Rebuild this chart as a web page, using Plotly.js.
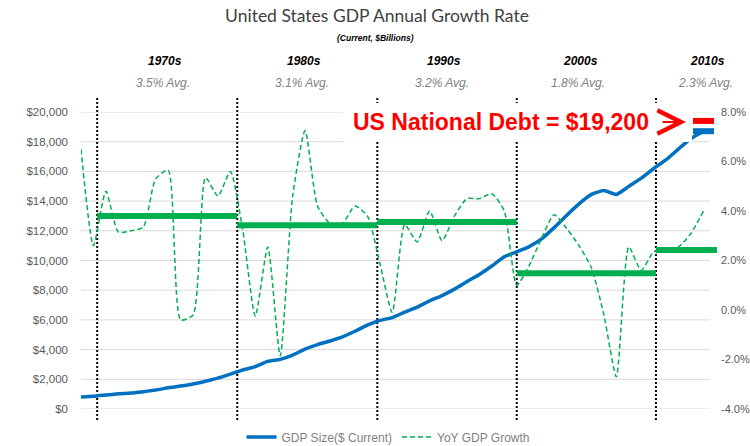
<!DOCTYPE html>
<html>
<head>
<meta charset="utf-8">
<script src="https://cdn.plot.ly/plotly-3.0.1.min.js"></script>
<style>html,body{margin:0;padding:0;background:#fff;}#chart{width:750px;height:446px;}</style>
</head>
<body>
<div id="chart"></div>
<script>
// ---- data ----
const years = [1966,1967,1968,1969,1970,1971,1972,1973,1974,1975,1976,1977,1978,1979,
  1980,1981,1982,1983,1984,1985,1986,1987,1988,1989,1990,1991,1992,1993,1994,1995,
  1996,1997,1998,1999,2000,2001,2002,2003,2004,2005,2006,2007,2008,2009,2010,2011,
  2012,2013,2014,2015,2016];
const gdpSize = [815,862,943,1020,1073,1165,1279,1425,1545,1685,1873,2082,2352,2627,
  2857,3207,3344,3634,4038,4339,4580,4855,5236,5642,5963,6158,6520,6859,7287,7640,
  8073,8578,9063,9631,10251,10582,10936,11458,12214,13037,13815,14452,14713,14449,14992,15543,
  16197,16785,17522,18219,18707];
const yoyGrowth = [6.5,2.6,4.8,3.15,3.2,3.35,5.3,5.65,-0.4,-0.2,5.35,4.6,5.6,3.2,
  -0.25,2.55,-1.85,4.6,7.25,4.2,3.5,3.5,4.2,3.8,1.9,-0.1,3.45,2.75,4.0,2.8,
  3.8,4.5,4.5,4.7,4.0,1.0,1.8,2.9,3.85,3.3,2.6,1.7,-0.2,-2.7,2.55,1.6,
  2.35,2.4,2.55,3.1,4.0];
const decadeNames = ["1970s","1980s","1990s","2000s","2010s"];
const decadeAvgText = ["3.5% Avg.","3.1% Avg.","3.2% Avg.","1.8% Avg.","2.3% Avg."];
const decadeBarLevel = [3.8,3.42,3.56,1.48,2.42];
const decadeEdges = [1967.3,1978.55,1989.8,2001.0,2012.18,2017.08];
const debtYear = 2016;
const debtValue = 19400;
const debtLabel = "US National Debt = $19,200";
const leftTicks = [0,2000,4000,6000,8000,10000,12000,14000,16000,18000,20000];
const rightTicks = [-4,-2,0,2,4,6,8];

// ---- layout helpers ----
const W = 750, H = 446;
const L = 81, R = 718, T = 112, B = 409;
const px2x = p => (p - L) / (R - L);
const py2y = p => (B - p) / (B - T);
const yearsPerPx = 1 / 12.45;

const BLUE = '#0070C0', GREEN = '#00B050';

const traces = [];
traces.push({
  x: years, y: gdpSize, type: 'scatter', mode: 'lines', name: 'GDP Size($ Current)',
  line: {color: BLUE, width: 3.5, shape: 'spline', smoothing: 0.5}, yaxis: 'y', hoverinfo: 'skip'
});
traces.push({
  x: years, y: yoyGrowth, type: 'scatter', mode: 'lines', name: 'YoY GDP Growth',
  line: {color: GREEN, width: 1.5, dash: '5px,3px', shape: 'spline', smoothing: 0.6}, yaxis: 'y2', hoverinfo: 'skip'
});
for (let i = 0; i < decadeBarLevel.length; i++) {
  traces.push({
    x: [decadeEdges[i], decadeEdges[i+1]], y: [decadeBarLevel[i], decadeBarLevel[i]],
    type: 'scatter', mode: 'lines', showlegend: false, yaxis: 'y2', hoverinfo: 'skip',
    line: {color: GREEN, width: 6}
  });
}
traces.push({
  x: [years[years.length-1]], y: [gdpSize[gdpSize.length-1]], type: 'scatter', mode: 'markers',
  showlegend: false, yaxis: 'y', cliponaxis: false, hoverinfo: 'skip',
  marker: {symbol: 'line-ew', size: 15, color: BLUE, line: {color: BLUE, width: 6}}
});
traces.push({
  x: [debtYear], y: [debtValue], type: 'scatter', mode: 'markers',
  showlegend: false, yaxis: 'y', cliponaxis: false, hoverinfo: 'skip',
  marker: {symbol: 'line-ew', size: 15, color: '#FF0000', line: {color: '#FF0000', width: 6}}
});

const shapes = [];
leftTicks.forEach(v => shapes.push({
  type: 'line', xref: 'paper', yref: 'y', x0: 0, x1: px2x(710), y0: v, y1: v,
  line: {color: '#D9D9D9', width: 1}, layer: 'below'
}));
for (let i = 0; i < decadeEdges.length - 1; i++) {
  shapes.push({
    type: 'line', xref: 'x', yref: 'paper', x0: decadeEdges[i], x1: decadeEdges[i],
    y0: py2y(420), y1: py2y(98), line: {color: '#000000', width: 2, dash: '2px,2px'}, layer: 'below'
  });
}
// white box behind the debt call-out (hides the dotted lines there)
shapes.push({
  type: 'rect', xref: 'paper', yref: 'paper', x0: px2x(343), x1: px2x(692), y0: py2y(142), y1: py2y(103),
  fillcolor: '#FFFFFF', line: {width: 0}, layer: 'above'
});

const labelPx = [165, 304, 444, 580, 707];
const annotations = [];
annotations.push({
  xref: 'paper', yref: 'paper', x: px2x(375), y: py2y(38), text: '<b><i>(Current, $Billions)</i></b>',
  showarrow: false, xanchor: 'center', yanchor: 'middle',
  font: {family: 'Liberation Sans', size: 8.5, color: '#000000'}
});
for (let i = 0; i < decadeNames.length; i++) {
  annotations.push({
    xref: 'paper', yref: 'paper', x: px2x(labelPx[i]), y: py2y(61), text: '<b><i>' + decadeNames[i] + '</i></b>',
    showarrow: false, xanchor: 'center', yanchor: 'middle',
    font: {family: 'Liberation Sans', size: 12, color: '#000000'}
  });
  annotations.push({
    xref: 'paper', yref: 'paper', x: px2x(labelPx[i] - 2), y: py2y(83), text: '<i>' + decadeAvgText[i] + '</i>',
    showarrow: false, xanchor: 'center', yanchor: 'middle',
    font: {family: 'Liberation Sans', size: 12, color: '#7F7F7F'}
  });
}
annotations.push({
  xref: 'paper', yref: 'paper', x: px2x(501), y: py2y(122),
  text: '<b>' + debtLabel + '</b>',
  showarrow: false, xanchor: 'center', yanchor: 'middle',
  font: {family: 'Liberation Sans', size: 23, color: '#FF0000'}
});
annotations.push({
  xref: 'paper', yref: 'paper', x: px2x(686), y: py2y(122), text: '',
  showarrow: true, axref: 'pixel', ayref: 'pixel', ax: -25, ay: 0,
  arrowhead: 5, arrowsize: 2.1, arrowwidth: 2.2, arrowcolor: '#FF0000', standoff: 0, startstandoff: 0
});

const layout = {
  width: W, height: H,
  margin: {l: L, r: W - R, t: T, b: H - B, pad: 0, autoexpand: false},
  paper_bgcolor: '#FFFFFF', plot_bgcolor: '#FFFFFF',
  title: {
    text: 'United States GDP Annual Growth Rate', xref: 'container', yref: 'container',
    x: 377 / W, y: 1 - 16 / H, xanchor: 'center', yanchor: 'middle',
    font: {family: 'Lato', size: 17.5, color: '#404040'}
  },
  showlegend: true,
  legend: {
    orientation: 'h', xref: 'paper', yref: 'paper', x: px2x(388), y: py2y(437),
    xanchor: 'center', yanchor: 'middle', font: {family: 'Liberation Sans', size: 12, color: '#7F7F7F'},
    bgcolor: 'rgba(0,0,0,0)', itemwidth: 30
  },
  xaxis: {
    range: [1966, 1966 + (R - L) * yearsPerPx], showgrid: false, zeroline: false,
    showticklabels: false, ticks: '', showline: false, fixedrange: true
  },
  yaxis: {
    range: [0, 20000], tickvals: leftTicks,
    ticktext: leftTicks.map(v => '$' + v.toLocaleString('en-US')),
    showgrid: false, zeroline: false, ticks: '', showline: false, ticklabelstandoff: 12,
    tickfont: {family: 'Liberation Sans', size: 11.5, color: '#595959'}
  },
  yaxis2: {
    range: [-4, 8], overlaying: 'y', side: 'right', tickvals: rightTicks,
    ticktext: rightTicks.map(v => v.toFixed(1) + '%'),
    showgrid: false, zeroline: false, ticks: '', showline: false, ticklabelstandoff: 2,
    tickfont: {family: 'Liberation Sans', size: 11, color: '#595959'}
  },
  shapes: shapes,
  annotations: annotations
};

Plotly.newPlot('chart', traces, layout, {displayModeBar: false, staticPlot: true});
</script>
</body>
</html>
